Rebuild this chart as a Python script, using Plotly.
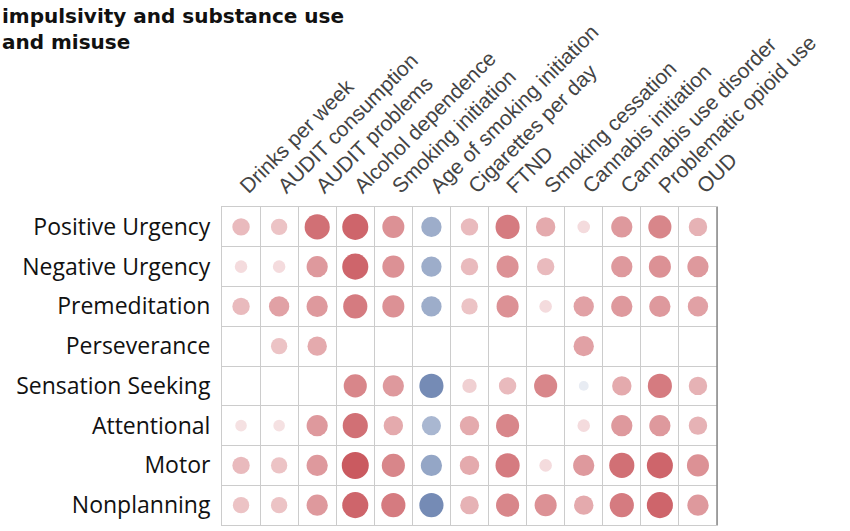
import numpy as np
import plotly.graph_objects as go

# Substance-use phenotypes (columns) and impulsivity traits (rows)
phenotypes = [
    "Drinks per week", "AUDIT consumption", "AUDIT problems", "Alcohol dependence",
    "Smoking initiation", "Age of smoking initiation", "Cigarettes per day", "FTND",
    "Smoking cessation", "Cannabis initiation", "Cannabis use disorder",
    "Problematic opioid use", "OUD",
]
traits = [
    "Positive Urgency", "Negative Urgency", "Premeditation", "Perseverance",
    "Sensation Seeking", "Attentional", "Motor", "Nonplanning",
]
title_lines = ["impulsivity and substance use", "and misuse"]

# Genetic correlations per trait (None = not significant / not shown)
positive_urgency = [0.25, 0.22, 0.52, 0.56, 0.40, -0.34, 0.25, 0.48, 0.31, 0.13, 0.37, 0.44, 0.28]
negative_urgency = [0.13, 0.13, 0.37, 0.56, 0.40, -0.34, 0.25, 0.40, 0.25, None, 0.37, 0.40, 0.37]
premeditation = [0.25, 0.34, 0.37, 0.48, 0.40, -0.34, 0.22, 0.40, 0.13, 0.34, 0.37, 0.37, 0.34]
perseverance = [None, 0.22, 0.31, None, None, None, None, None, None, 0.34, None, None, None]
sensation_seeking = [None, None, None, 0.44, 0.37, -0.48, 0.17, 0.25, 0.44, -0.08, 0.31, 0.48, 0.28]
attentional = [0.11, 0.11, 0.37, 0.52, 0.31, -0.30, 0.31, 0.44, None, 0.13, 0.37, 0.37, 0.28]
motor = [0.25, 0.22, 0.37, 0.60, 0.44, -0.37, 0.31, 0.48, 0.13, 0.37, 0.52, 0.56, 0.40]
nonplanning = [0.22, 0.22, 0.37, 0.56, 0.48, -0.48, 0.28, 0.44, 0.40, 0.31, 0.48, 0.56, 0.37]

rows = [positive_urgency, negative_urgency, premeditation, perseverance,
        sensation_seeking, attentional, motor, nonplanning]

R_MAX = 0.6
D_MAX = 27  # px diameter at |r| = R_MAX (circle area proportional to |r|)

xs, ys, vals = [], [], []
for trait, row in zip(traits, rows):
    for pheno, v in zip(phenotypes, row):
        if v is None:
            continue
        xs.append(pheno)
        ys.append(trait)
        vals.append(v)
vals = np.array(vals)
sizes = D_MAX * np.sqrt(np.abs(vals) / R_MAX)

colorscale = [
    [0.0, "rgb(82,110,162)"],
    [0.5, "rgb(255,255,255)"],
    [1.0, "rgb(202,90,96)"],
]

fig = go.Figure(go.Scatter(
    x=xs, y=ys, mode="markers",
    marker=dict(size=sizes, sizemode="diameter", color=vals,
                colorscale=colorscale, cmin=-R_MAX, cmax=R_MAX,
                line=dict(width=0), opacity=1),
    hovertemplate="%{y} / %{x}: %{marker.color:.2f}<extra></extra>",
))

n_x, n_y = len(phenotypes), len(traits)
grid_col = "#cccccc"
L, R, T, B = 222, 133, 207, 6
W, H = 850, 531

fig.update_layout(
    width=W, height=H,
    margin=dict(l=L, r=R, t=T, b=B),
    paper_bgcolor="white", plot_bgcolor="white",
    showlegend=False,
    xaxis=dict(
        side="top", type="category",
        categoryorder="array", categoryarray=phenotypes,
        range=[-0.5, n_x - 0.5], showgrid=False, zeroline=False,
        tickangle=-45, ticks="", ticklabelstandoff=0,
        tickfont=dict(family="Liberation Sans, Arial", size=21, color="#444"),
        showline=True, linecolor=grid_col, linewidth=1, mirror=True,
        minor=dict(tickvals=[i + 0.5 for i in range(-1, n_x)],
                   showgrid=True, gridcolor=grid_col, gridwidth=1, ticks=""),
    ),
    yaxis=dict(
        type="category", categoryorder="array", categoryarray=traits,
        range=[n_y - 0.5, -0.5], showgrid=False, zeroline=False,
        ticks="", ticklabelstandoff=6,
        tickfont=dict(family="Open Sans", size=23, color="#111"),
        showline=True, linecolor=grid_col, linewidth=1, mirror=True,
        minor=dict(tickvals=[i + 0.5 for i in range(-1, n_y)],
                   showgrid=True, gridcolor=grid_col, gridwidth=1, ticks=""),
    ),
)

# two-line bold heading in the top-left corner
fig.add_annotation(
    text="<br>".join(title_lines),
    xref="paper", yref="paper",
    x=-L / (W - L - R), y=1 + (T - 2) / (H - T - B),
    xanchor="left", yanchor="top", showarrow=False, align="left",
    font=dict(family="DejaVu Sans", size=20, color="#111", weight=700),
)

# darker right-hand frame edge
fig.add_shape(type="line", xref="paper", yref="paper", x0=1, x1=1, y0=0, y1=1,
              line=dict(color="#8a8a8a", width=1.5))

fig.write_html("out.html")
